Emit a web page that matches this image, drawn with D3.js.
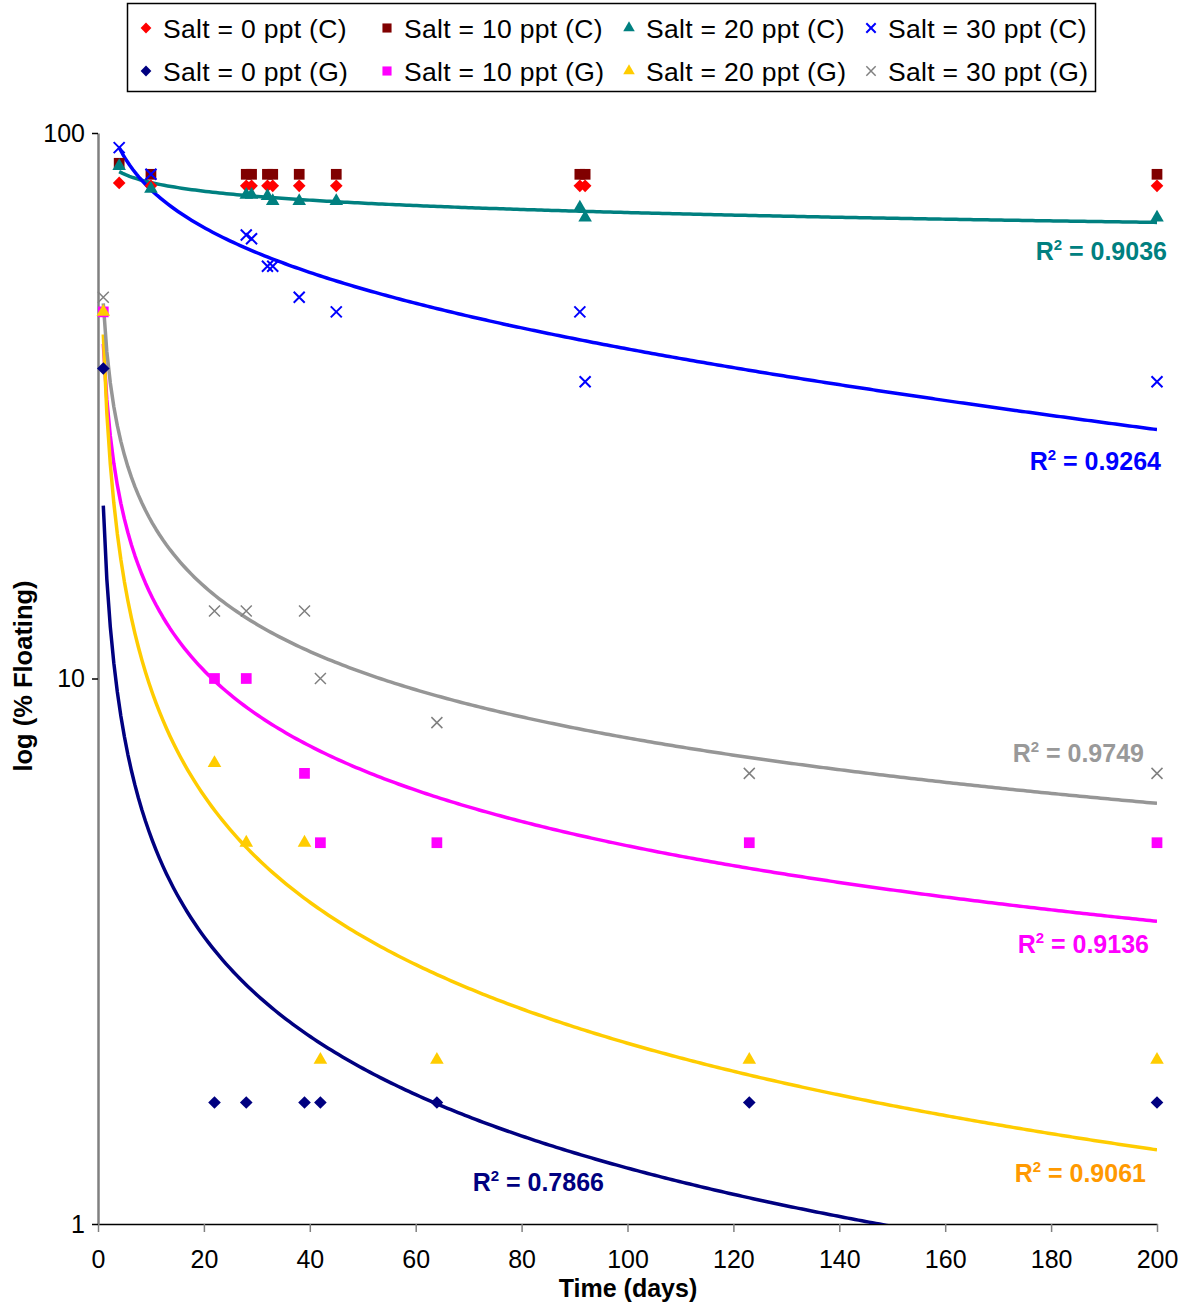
<!DOCTYPE html>
<html>
<head lang="en">
<meta charset="UTF-8">
<script src="https://cdn.jsdelivr.net/npm/d3@7"></script>
<style>
    body { margin: 0; background: #fff; }
    text { font-family: 'Liberation Sans', Arial, sans-serif; }
</style>
</head>
<body>
<svg width="1185" height="1306"></svg>
<script>
    // sampling days
    var daysC = [4, 10, 28, 29, 32, 33, 38, 45, 91, 92, 200];
    var daysG = [1, 22, 28, 39, 42, 64, 123, 200];

    // % floating
    var salt0C = [81, 80, 80, 80, 80, 80, 80, 80, 80, 80, 80];
    var salt10C = [88, 84, 84, 84, 84, 84, 84, 84, 84, 84, 84];
    var salt20C = [87, 79, 77, 77, 76.6, 75, 75, 75, 73, 70, 70];
    var salt30C = [94, 84, 65, 64, 57, 57, 50, 47, 47, 35, 35];
    var salt0G = [37, 1.67, 1.67, 1.67, 1.67, 1.67, 1.67, 1.67];
    var salt10G = [47, 10, 10, 6.7, 5, 5, 5, 5];
    var salt20G = [47, 7, 5, 5, 2, 2, 2, 2];
    var salt30G = [50, 13.3, 13.3, 13.3, 10, 8.3, 6.7, 6.7];

    var seriesNames = ['Salt = 0 ppt (C)', 'Salt = 10 ppt (C)', 'Salt = 20 ppt (C)', 'Salt = 30 ppt (C)',
        'Salt = 0 ppt (G)', 'Salt = 10 ppt (G)', 'Salt = 20 ppt (G)', 'Salt = 30 ppt (G)'];
    var r2Labels = ['0.9036', '0.9264', '0.7866', '0.9136', '0.9061', '0.9749'];

    var xTicks = d3.range(0, 201, 20);
    var yTicks = [1, 10, 100];

    var series = [
        {name: seriesNames[0], days: daysC, values: salt0C, shape: 'diamond', color: '#ff0000'},
        {name: seriesNames[1], days: daysC, values: salt10C, shape: 'square', color: '#800000'},
        {name: seriesNames[2], days: daysC, values: salt20C, shape: 'triangle', color: '#008080',
            trend: '#008080', fit: 'log', r2: r2Labels[0], lab: [1167, 260], labColor: '#008080'},
        {name: seriesNames[3], days: daysC, values: salt30C, shape: 'cross', color: '#0000ff',
            trend: '#0000ff', fit: 'log', r2: r2Labels[1], lab: [1161, 470], labColor: '#0000ff'},
        {name: seriesNames[4], days: daysG, values: salt0G, shape: 'diamond', color: '#000080',
            trend: '#000080', fit: 'power', r2: r2Labels[2], lab: [604, 1191], labColor: '#000080'},
        {name: seriesNames[5], days: daysG, values: salt10G, shape: 'square', color: '#ff00ff',
            trend: '#ff00ff', fit: 'power', r2: r2Labels[3], lab: [1149, 953], labColor: '#ff00ff'},
        {name: seriesNames[6], days: daysG, values: salt20G, shape: 'triangle', color: '#ffcc00',
            trend: '#ffcc00', fit: 'power', r2: r2Labels[4], lab: [1146, 1182], labColor: '#ff9900'},
        {name: seriesNames[7], days: daysG, values: salt30G, shape: 'cross', color: '#808080',
            trend: '#969696', fit: 'power', r2: r2Labels[5], lab: [1144, 762], labColor: '#999999'}
    ];

    var svg = d3.select('svg');
    var x = d3.scaleLinear().domain([0, 200]).range([98, 1157]);
    var y = d3.scaleLog().domain([1, 100]).range([1224, 133]);

    // excel style trendlines, least squares against ln(x)
    function fitTrend(xs, ys, type) {
        var lx = xs.map(Math.log);
        var ly = type === 'power' ? ys.map(Math.log) : ys.slice();
        var mx = d3.mean(lx), my = d3.mean(ly);
        var sxy = d3.sum(lx, function (d, i) { return (d - mx) * (ly[i] - my); });
        var sxx = d3.sum(lx, function (d) { return (d - mx) * (d - mx); });
        var b = sxy / sxx;
        var a = my - b * mx;
        if (type === 'power') {
            return function (t) { return Math.exp(a) * Math.pow(t, b); };
        }
        return function (t) { return a + b * Math.log(t); };
    }

    function markerPath(shape, k) {
        k = k || 1;
        if (shape === 'diamond') return d3.symbol(d3.symbolSquare, 80 * k * k)();
        if (shape === 'square') return d3.symbol(d3.symbolSquare, 115 * k * k)();
        if (shape === 'triangle') return d3.symbol(d3.symbolTriangle, 80 * k * k)();
        var r = 5.5 * k, p = d3.path();
        p.moveTo(-r, -r); p.lineTo(r, r);
        p.moveTo(-r, r); p.lineTo(r, -r);
        return p.toString();
    }

    function drawMarker(sel, s, k) {
        sel.append('path')
            .attr('d', markerPath(s.shape, k))
            .attr('transform', function () {
                return s.shape === 'diamond' ? 'rotate(45)' : null;
            })
            .attr('fill', s.shape === 'cross' ? 'none' : s.color)
            .attr('stroke', s.shape === 'cross' ? s.color : 'none')
            .attr('stroke-width', s.color === '#808080' ? 1.5 : 2);
    }

    svg.append('defs').append('clipPath').attr('id', 'plot')
        .append('rect').attr('x', 98).attr('y', 133).attr('width', 1059).attr('height', 1091);

    // axes
    var gx = svg.append('g').attr('transform', 'translate(0,1224)')
        .call(d3.axisBottom(x).tickValues(xTicks).tickSize(8).tickSizeOuter(0).tickPadding(18));
    gx.select('.domain').attr('stroke', '#000').attr('stroke-width', 1.5);
    gx.selectAll('.tick line').attr('stroke', '#808080').attr('stroke-width', 1.5);
    gx.selectAll('text').attr('font-size', 25).attr('fill', '#000')
        .attr('font-family', "'Liberation Sans', Arial, sans-serif");

    var gy = svg.append('g').attr('transform', 'translate(98,0)')
        .call(d3.axisLeft(y).tickValues(yTicks).tickFormat(d3.format('d')).tickSize(6).tickSizeOuter(0));
    gy.select('.domain').attr('stroke', '#808080').attr('stroke-width', 2.5);
    gy.selectAll('.tick line').attr('stroke', '#000').attr('stroke-width', 1.5);
    gy.selectAll('text').attr('font-size', 25).attr('fill', '#000')
        .attr('font-family', "'Liberation Sans', Arial, sans-serif")
        .attr('x', -13);

    // trend lines
    var lineGen = d3.line()
        .x(function (d) { return x(d[0]); })
        .y(function (d) { return y(d[1]); });

    var trends = svg.append('g').attr('clip-path', 'url(#plot)');
    series.filter(function (s) { return s.trend; }).forEach(function (s) {
        var f = fitTrend(s.days, s.values, s.fit);
        var lo = d3.min(s.days), hi = d3.max(s.days);
        var pts = d3.range(301).map(function (i) {
            var t = lo + (hi - lo) * i / 300;
            return [t, f(t)];
        });
        trends.append('path')
            .attr('d', lineGen(pts))
            .attr('fill', 'none')
            .attr('stroke', s.trend)
            .attr('stroke-width', 3.5)
            .attr('stroke-linejoin', 'round');
    });

    // points
    series.forEach(function (s) {
        var g = svg.append('g');
        s.days.forEach(function (d, i) {
            var m = g.append('g').attr('transform', 'translate(' + x(d) + ',' + y(s.values[i]) + ')');
            drawMarker(m, s, 1);
        });
    });

    // R squared labels
    series.filter(function (s) { return s.r2; }).forEach(function (s) {
        var t = svg.append('text')
            .attr('x', s.lab[0]).attr('y', s.lab[1])
            .attr('text-anchor', 'end')
            .attr('font-size', 25).attr('font-weight', 'bold')
            .attr('fill', s.labColor);
        t.append('tspan').text('R');
        t.append('tspan').attr('font-size', 15).attr('dy', -10).text('2');
        t.append('tspan').attr('dy', 10).text(' = ' + s.r2);
    });

    // axis titles
    svg.append('text')
        .attr('x', 628).attr('y', 1297)
        .attr('text-anchor', 'middle')
        .attr('font-size', 25).attr('font-weight', 'bold')
        .text('Time (days)');

    svg.append('text')
        .attr('transform', 'translate(32,676) rotate(-90)')
        .attr('text-anchor', 'middle')
        .attr('font-size', 25.5).attr('font-weight', 'bold')
        .text('log (% Floating)');

    // legend
    var legend = svg.append('g');
    legend.append('rect')
        .attr('x', 127.5).attr('y', 3.5).attr('width', 968).attr('height', 88)
        .attr('fill', '#fff').attr('stroke', '#000').attr('stroke-width', 1.5);

    var colX = [146, 387, 629, 871];
    var rowY = [28, 71];
    series.forEach(function (s, i) {
        var cx = colX[i % 4], cy = rowY[Math.floor(i / 4)];
        var m = legend.append('g').attr('transform', 'translate(' + cx + ',' + cy + ')');
        drawMarker(m, s, 0.85);
        legend.append('text')
            .attr('x', cx + 17).attr('y', cy + 9.5)
            .attr('font-size', 26.5)
            .attr('letter-spacing', 0.3)
            .text(s.name);
    });
</script>
</body>
</html>
